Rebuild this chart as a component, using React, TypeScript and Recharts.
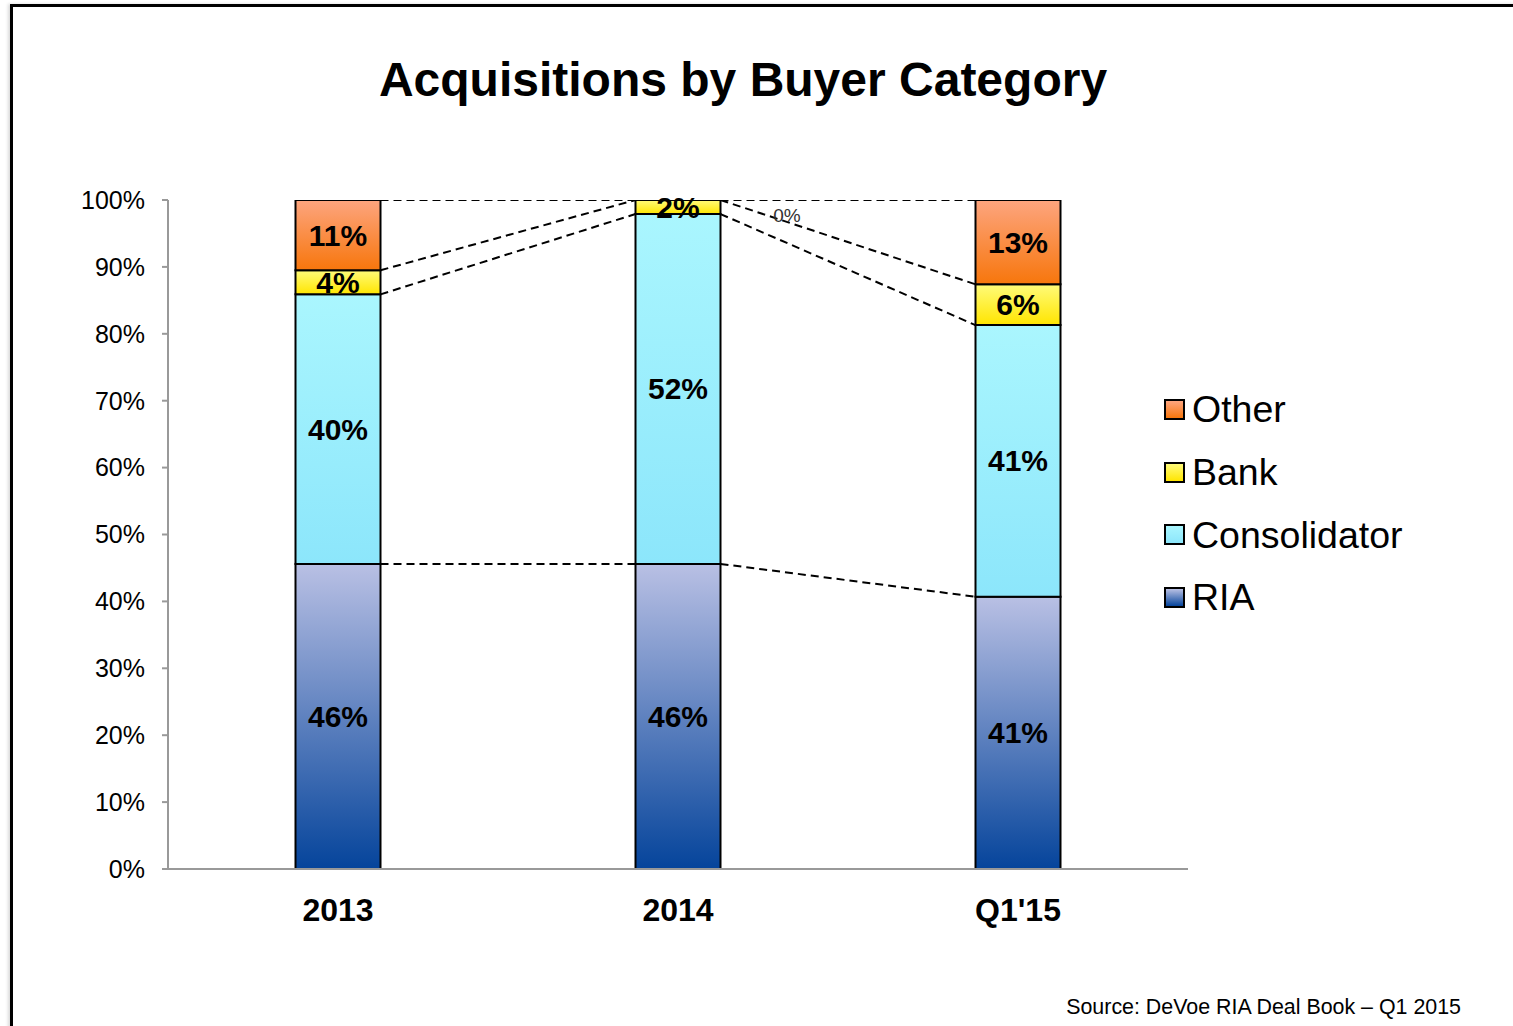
import { BarChart, Bar, XAxis, YAxis, LabelList } from "recharts";

const categories = ["2013", "2014", "Q1'15"];
const ria = [45.6, 45.6, 40.7];
const consolidator = [40.3, 52.3, 40.6];
const bank = [3.6, 2.1, 6.1];
const other = [10.5, 0, 12.6];
const yTicks = [0, 10, 20, 30, 40, 50, 60, 70, 80, 90, 100];

const legendItems = [
  { name: "Other", grad: "gOther" },
  { name: "Bank", grad: "gBank" },
  { name: "Consolidator", grad: "gCons" },
  { name: "RIA", grad: "gRia" },
];

const data = categories.map((category, i) => ({
  category,
  ria: ria[i],
  consolidator: consolidator[i],
  bank: bank[i],
  other: other[i],
}));

const FONT = '"Liberation Sans", Arial, Helvetica, sans-serif';
const GAP = 0.375; // barCategoryGap as a fraction

const stops: Record<string, [string, string]> = {
  gOther: ["#fda57f", "#f7760c"],
  gBank: ["#fffb7a", "#ffe500"],
  gCons: ["#aaf6fe", "#8ce6fb"],
  gRia: ["#b9c0e4", "#05449b"],
};

const cssGrad = (id: string) =>
  `linear-gradient(to bottom, ${stops[id][0]}, ${stops[id][1]})`;

const levels = (d: any) => [
  d.ria,
  d.ria + d.consolidator,
  d.ria + d.consolidator + d.bank,
  d.ria + d.consolidator + d.bank + d.other,
];

// RIA segment also draws the dashed series lines to the next column
function RiaShape(props: any) {
  const { x, y, width, height, index, payload, fill } = props;
  const k = height / payload.ria;
  const base = y + height;
  const yAt = (v: number) => base - v * k;
  const next = data[index + 1];
  let lines: any[] = [];
  if (next) {
    const step = width / (1 - 2 * GAP);
    const a = levels(payload);
    const b = levels(next);
    lines = a.map((v, j) => (
      <line
        key={j}
        x1={x + width}
        y1={yAt(v)}
        x2={x + step}
        y2={yAt(b[j])}
        stroke="#000"
        strokeWidth={2}
        strokeDasharray="8 5"
      />
    ));
  }
  return (
    <g>
      <rect x={x} y={y} width={width} height={height} fill={fill} stroke="#000" strokeWidth={2} />
      {lines}
    </g>
  );
}

function SegLabel(props: any) {
  const { x, y, width, height, value, index, showZeroOther } = props;
  const zero =
    showZeroOther && data[index] && data[index].other === 0 ? (
      <text x={x + width / 2 + 109} y={y + 15} textAnchor="middle" dominantBaseline="central"
        fontFamily={FONT} fontSize={19} fill="#333">
        0%
      </text>
    ) : null;
  return (
    <g>
      <text x={x + width / 2} y={y + height / 2} textAnchor="middle" dominantBaseline="central"
        fontFamily={FONT} fontSize={30} fontWeight="bold" fill="#000">
        {Math.round(value)}%
      </text>
      {zero}
    </g>
  );
}

export default function App() {
  return (
    <div style={{ position: "absolute", left: 0, top: 0, width: 1513, height: 1026, background: "#fff", fontFamily: FONT, overflow: "hidden" }}>
      <div style={{ position: "absolute", left: 10, top: 4, width: 1520, height: 1040, borderTop: "3px solid #000", borderLeft: "3px solid #000", boxShadow: "-2px 0 3px rgba(0,0,0,0.15)" }} />
      <div style={{ position: "absolute", left: 0, width: 1486, top: 50, textAlign: "center", fontSize: 48, fontWeight: "bold", lineHeight: "60px" }}>
        Acquisitions by Buyer Category
      </div>
      <div style={{ position: "absolute", left: 0, top: 0 }}>
        <BarChart
          width={1513}
          height={1026}
          data={data}
          margin={{ top: 200, right: 325, bottom: 97, left: 0 }}
          barCategoryGap={`${GAP * 100}%`}
        >
          <defs>
            {Object.keys(stops).map((id) => (
              <linearGradient key={id} id={id} x1="0" y1="0" x2="0" y2="1">
                <stop offset="0%" stopColor={stops[id][0]} />
                <stop offset="100%" stopColor={stops[id][1]} />
              </linearGradient>
            ))}
          </defs>
          <XAxis
            dataKey="category"
            height={60}
            axisLine={{ stroke: "#999", strokeWidth: 2 }}
            tickLine={false}
            tickSize={0}
            tickMargin={29}
            tick={{ fontSize: 32, fontWeight: "bold", fill: "#000", fontFamily: FONT }}
          />
          <YAxis
            width={168}
            domain={[0, 100]}
            ticks={yTicks}
            allowDataOverflow
            tickFormatter={(v) => `${v}%`}
            axisLine={{ stroke: "#999", strokeWidth: 2 }}
            tickLine={{ stroke: "#999", strokeWidth: 2 }}
            tickSize={6}
            tickMargin={17}
            tick={{ fontSize: 25, fill: "#000", fontFamily: FONT }}
          />
          <Bar dataKey="ria" stackId="s" fill="url(#gRia)" shape={<RiaShape />} isAnimationActive={false}>
            <LabelList dataKey="ria" content={<SegLabel />} />
          </Bar>
          <Bar dataKey="consolidator" stackId="s" fill="url(#gCons)" stroke="#000" strokeWidth={2} isAnimationActive={false}>
            <LabelList dataKey="consolidator" content={<SegLabel />} />
          </Bar>
          <Bar dataKey="bank" stackId="s" fill="url(#gBank)" stroke="#000" strokeWidth={2} isAnimationActive={false}>
            <LabelList dataKey="bank" content={<SegLabel showZeroOther />} />
          </Bar>
          <Bar dataKey="other" stackId="s" fill="url(#gOther)" stroke="#000" strokeWidth={2} isAnimationActive={false}>
            <LabelList dataKey="other" content={<SegLabel />} />
          </Bar>
        </BarChart>
      </div>
      <div style={{ position: "absolute", left: 1164, top: 378 }}>
        {legendItems.map((it) => (
          <div key={it.name} style={{ display: "flex", alignItems: "center", height: 62.7 }}>
            <div style={{ width: 17, height: 17, border: "2px solid #000", background: cssGrad(it.grad), marginRight: 7 }} />
            <span style={{ fontSize: 37.5, lineHeight: "40px", color: "#000" }}>{it.name}</span>
          </div>
        ))}
      </div>
      <div style={{ position: "absolute", right: 52, top: 994, fontSize: 21.4, color: "#000", lineHeight: "26px" }}>
        Source: DeVoe RIA Deal Book – Q1 2015
      </div>
    </div>
  );
}
